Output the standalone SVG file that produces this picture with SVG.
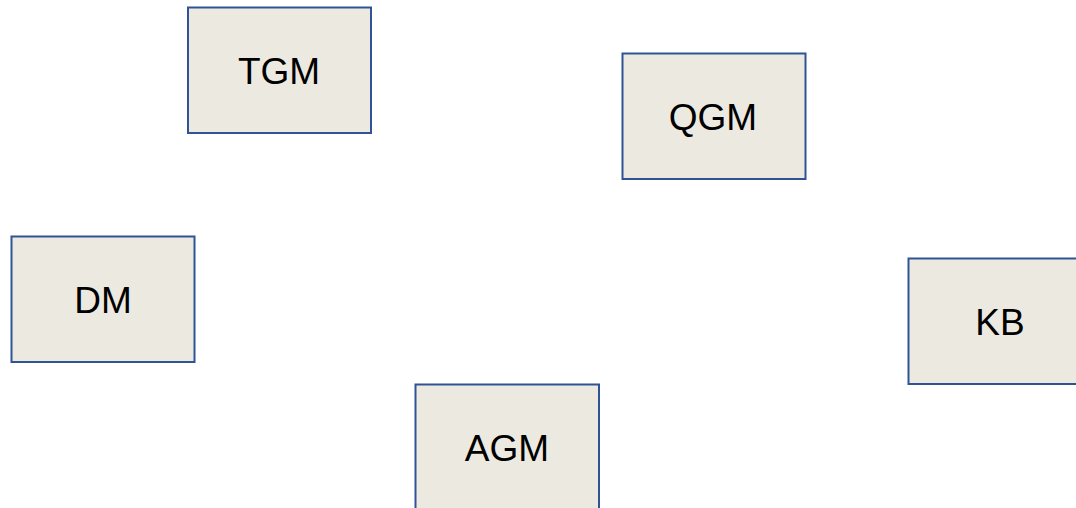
<svg xmlns="http://www.w3.org/2000/svg" width="1076" height="508" viewBox="0 0 1076 508">
<style>
.box{fill:#ECEAE0;stroke:#2F5496;stroke-width:2}
.lbl{font-family:"Liberation Sans",Arial,sans-serif;font-size:37px;fill:#000;text-anchor:middle}
</style>
<rect width="1076" height="508" fill="#fff"/>
<g id="connectors"></g>
<g id="TGM"><rect class="box" x="188" y="7.5" width="183" height="125.5"/><text class="lbl" x="279" y="84">TGM</text></g>
<g id="QGM"><rect class="box" x="622.5" y="53.5" width="183" height="125.5"/><text class="lbl" x="713" y="130">QGM</text></g>
<g id="DM"><rect class="box" x="11.5" y="236.5" width="183" height="125.5"/><text class="lbl" x="103" y="313">DM</text></g>
<g id="KB"><rect class="box" x="908.5" y="258.5" width="183" height="125.5"/><text class="lbl" x="1000" y="335">KB</text></g>
<g id="AGM"><rect class="box" x="415.5" y="384.5" width="183.5" height="125.5"/><text class="lbl" x="507" y="461">AGM</text></g>
</svg>
